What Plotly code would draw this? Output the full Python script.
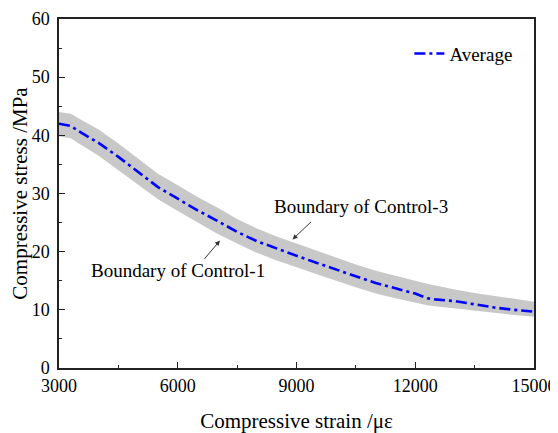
import plotly.graph_objects as go

strain = [3000, 3300, 3500, 4000, 4500, 5000, 5500, 6000, 6500, 7000, 7500, 8000, 8500,
          9000, 9500, 10000, 10500, 11000, 11500, 12000, 12300, 12500, 13000, 13500,
          14000, 14500, 15000]
average = [42.0, 41.6, 40.7, 38.7, 36.3, 33.7, 31.1, 29.1, 27.1, 25.3, 23.4, 21.8, 20.5,
           19.3, 18.1, 16.9, 15.8, 14.6, 13.7, 12.8, 12.0, 11.8, 11.5, 10.9,
           10.4, 10.0, 9.7]
upper_control3 = [44.0, 43.7, 42.9, 41.0, 38.6, 36.0, 33.4, 31.4, 29.4, 27.6, 25.6, 24.0, 22.6,
                  21.4, 20.2, 18.9, 17.8, 16.7, 15.8, 15.0, 14.5, 14.2, 13.5, 12.9,
                  12.4, 11.9, 11.4]
lower_control1 = [39.8, 39.5, 38.6, 36.5, 34.0, 31.5, 29.0, 27.0, 25.0, 23.1, 21.4, 19.8, 18.5,
                  17.3, 16.1, 15.0, 13.9, 12.8, 12.0, 11.2, 10.8, 10.6, 10.2, 9.9,
                  9.5, 9.1, 8.8]

x_ticks = [3000, 6000, 9000, 12000, 15000]
x_tick_labels = ["3000", "6000", "9000", "12000", "15000"]
y_ticks = [0, 10, 20, 30, 40, 50, 60]
y_tick_labels = ["0", "10", "20", "30", "40", "50", "60"]

FONT = "Liberation Serif"

fig = go.Figure()
fig.add_trace(go.Scatter(x=strain, y=lower_control1, mode="lines",
                         line=dict(width=0, color="#c8c8c8"), showlegend=False,
                         hoverinfo="skip"))
fig.add_trace(go.Scatter(x=strain, y=upper_control3, mode="lines", fill="tonexty",
                         fillcolor="#c8c8c8", line=dict(width=0, color="#c8c8c8"),
                         showlegend=False, hoverinfo="skip"))
fig.add_trace(go.Scatter(x=strain, y=average, mode="lines", name="Average",
                         line=dict(color="#0000ff", width=2.6, dash="11px,4px,3px,4px")))

axis_common = dict(
    showline=True, linecolor="#222222", linewidth=1.5, mirror=True,
    ticks="inside", ticklen=6, tickwidth=1.3, tickcolor="#222222",
    showgrid=False, zeroline=False, automargin=False,
    tickfont=dict(family=FONT, size=18, color="black"),
)

fig.update_xaxes(range=[3000, 15000], tickvals=x_ticks, ticktext=x_tick_labels,
                 ticklabelstandoff=1,
                 minor=dict(ticks="inside", ticklen=3, tickwidth=1.2, tickcolor="#222222", dtick=1500, tick0=3000),
                 title=dict(text="Compressive strain /με", font=dict(family=FONT, size=21, color="black"), standoff=19),
                 **axis_common)
fig.update_yaxes(range=[0, 60], tickvals=y_ticks, ticktext=y_tick_labels,
                 ticklabelstandoff=4,
                 minor=dict(ticks="inside", ticklen=3, tickwidth=1.2, tickcolor="#222222", dtick=5, tick0=0),
                 title=dict(text="Compressive stress /MPa", font=dict(family=FONT, size=21, color="black"), standoff=7),
                 **axis_common)

fig.add_annotation(x=10620, y=27.8, text="Boundary of Control-3", showarrow=False,
                   font=dict(family=FONT, size=19, color="black"))
fig.add_annotation(x=8900, y=22.1, text="", showarrow=True, ax=20, ay=-19,
                   arrowhead=2, arrowsize=1, arrowwidth=1, arrowcolor="#333333")
fig.add_annotation(x=6000, y=16.8, text="Boundary of Control-1", showarrow=False,
                   font=dict(family=FONT, size=19, color="black"))
fig.add_annotation(x=7066, y=21.9, text="", showarrow=True, ax=-17, ay=20,
                   arrowhead=2, arrowsize=1, arrowwidth=1, arrowcolor="#333333")

# page body has an 8px default margin, so the figure is sized to fit the window
fig.update_layout(
    width=550, height=425,
    margin=dict(l=51, r=24, t=11, b=65),
    paper_bgcolor="white", plot_bgcolor="white",
    font=dict(family=FONT, color="black"),
    showlegend=True,
    legend=dict(x=0.965, y=0.955, xanchor="right", yanchor="top",
                bgcolor="rgba(0,0,0,0)", borderwidth=0,
                font=dict(family=FONT, size=19, color="black")),
)

fig.write_html("out.html")
